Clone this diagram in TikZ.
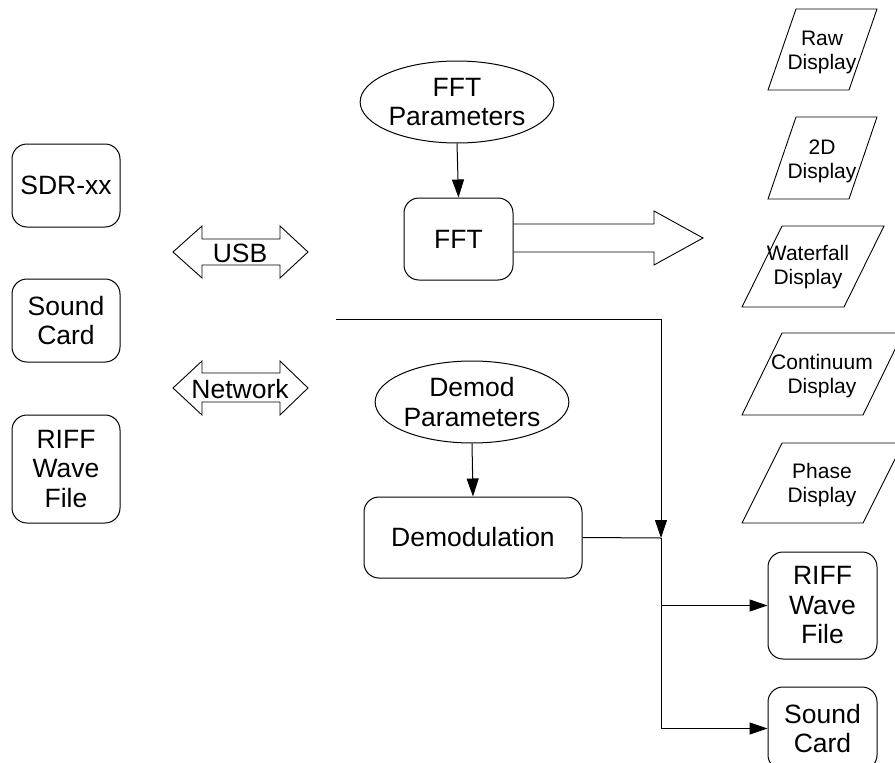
\documentclass[tikz,border=0pt]{standalone}
\usepackage{fontspec}
\setmainfont{Liberation Sans}
\usetikzlibrary{shapes.geometric,arrows.meta}
\newcommand\fbig{\fontsize{26.5}{29.5}\selectfont}
\newcommand\fsmall{\fontsize{21}{24}\selectfont}
\begin{document}
\begin{tikzpicture}[x=1pt,y=-1pt,line width=1pt,
  box/.style={draw,rounded corners=15pt,inner sep=0pt,align=center,font=\fbig},
  oval/.style={draw,ellipse,inner sep=0pt,minimum width=190pt,minimum height=82pt,align=center,font=\fbig},
  lbl/.style={inner sep=0pt,align=center,font=\fbig},
  dlbl/.style={inner sep=0pt,align=center,font=\fsmall},
  outline/.style={draw,line width=0.9pt,line join=miter},
  arr/.style={-{Triangle[length=18pt,width=12pt]}}]
\clip (0,0) rectangle (895,763);
% left sources
\node[box,minimum width=108pt,minimum height=83pt] (sdr) at (66,185.5) {SDR-xx};
\node[box,minimum width=108pt,minimum height=83pt] (scard) at (66,320.5) {Sound\\Card};
\node[box,minimum width=108pt,minimum height=108pt] (riff) at (66,469) {RIFF\\Wave\\File};
% double arrows
\draw[outline] (173,252) -- (202,226) -- (202,239) -- (280,239) -- (280,226) -- (308,252)
  -- (280,278) -- (280,265) -- (202,265) -- (202,278) -- cycle;
\node[lbl] (usb) at (240,253) {USB};
\draw[outline] (173,388) -- (202,361) -- (202,373) -- (280,373) -- (280,361) -- (308,388)
  -- (280,415) -- (280,402) -- (202,402) -- (202,415) -- cycle;
\node[lbl] (net) at (240,389) {Network};
% FFT path
\node[oval] (fftp) at (457,102) {FFT\\Parameters};
\node[box,minimum width=109pt,minimum height=82pt] (fft) at (458.5,239) {FFT};
\draw[arr] (fftp.south) -- (fft.north);
\draw[outline] (fft.east |- 0,224) -- (654,224) -- (654,211) -- (703,238) -- (654,265) -- (654,252) -- (fft.east |- 0,252);
% Demod path
\node[oval] (dmp) at (472,402) {Demod\\Parameters};
\node[box,minimum width=218pt,minimum height=81pt] (demod) at (473,537.5) {Demodulation};
\draw[arr] (dmp.south) -- (demod.north);
% outputs
\node[box,minimum width=109pt,minimum height=107pt] (riff2) at (822.5,605.5) {RIFF\\Wave\\File};
\node[box,minimum width=109pt,minimum height=83pt] (scard2) at (822.5,728.5) {Sound\\Card};
\coordinate (lstart) at (336,319);
\coordinate (junc) at (661,538);
\draw[arr] (lstart) -| (junc);
\draw (demod.east) -- (junc);
\draw[arr] (junc) |- (riff2.west);
\draw[arr] (junc) |- (scard2.west);
% displays
\draw[outline] (796,9) -- (877,9) -- (849,90) -- (768,90) -- cycle;
\node[dlbl] (raw) at (822,52) {Raw\\Display};
\draw[outline] (796,117) -- (877,117) -- (849,199) -- (768,199) -- cycle;
\node[dlbl] (d2) at (822,161) {2D\\Display};
\draw[outline] (782,226) -- (884,226) -- (844,307) -- (742,307) -- cycle;
\node[dlbl] (wf) at (808,267) {Waterfall\\Display};
\draw[outline] (782,333) -- (903,333) -- (863,415) -- (742,415) -- cycle;
\node[dlbl] (cont) at (822,376) {Continuum\\Display};
\draw[outline] (782,443) -- (903,443) -- (863,523) -- (742,523) -- cycle;
\node[dlbl] (phase) at (822,485) {Phase\\Display};
\end{tikzpicture}
\end{document}
